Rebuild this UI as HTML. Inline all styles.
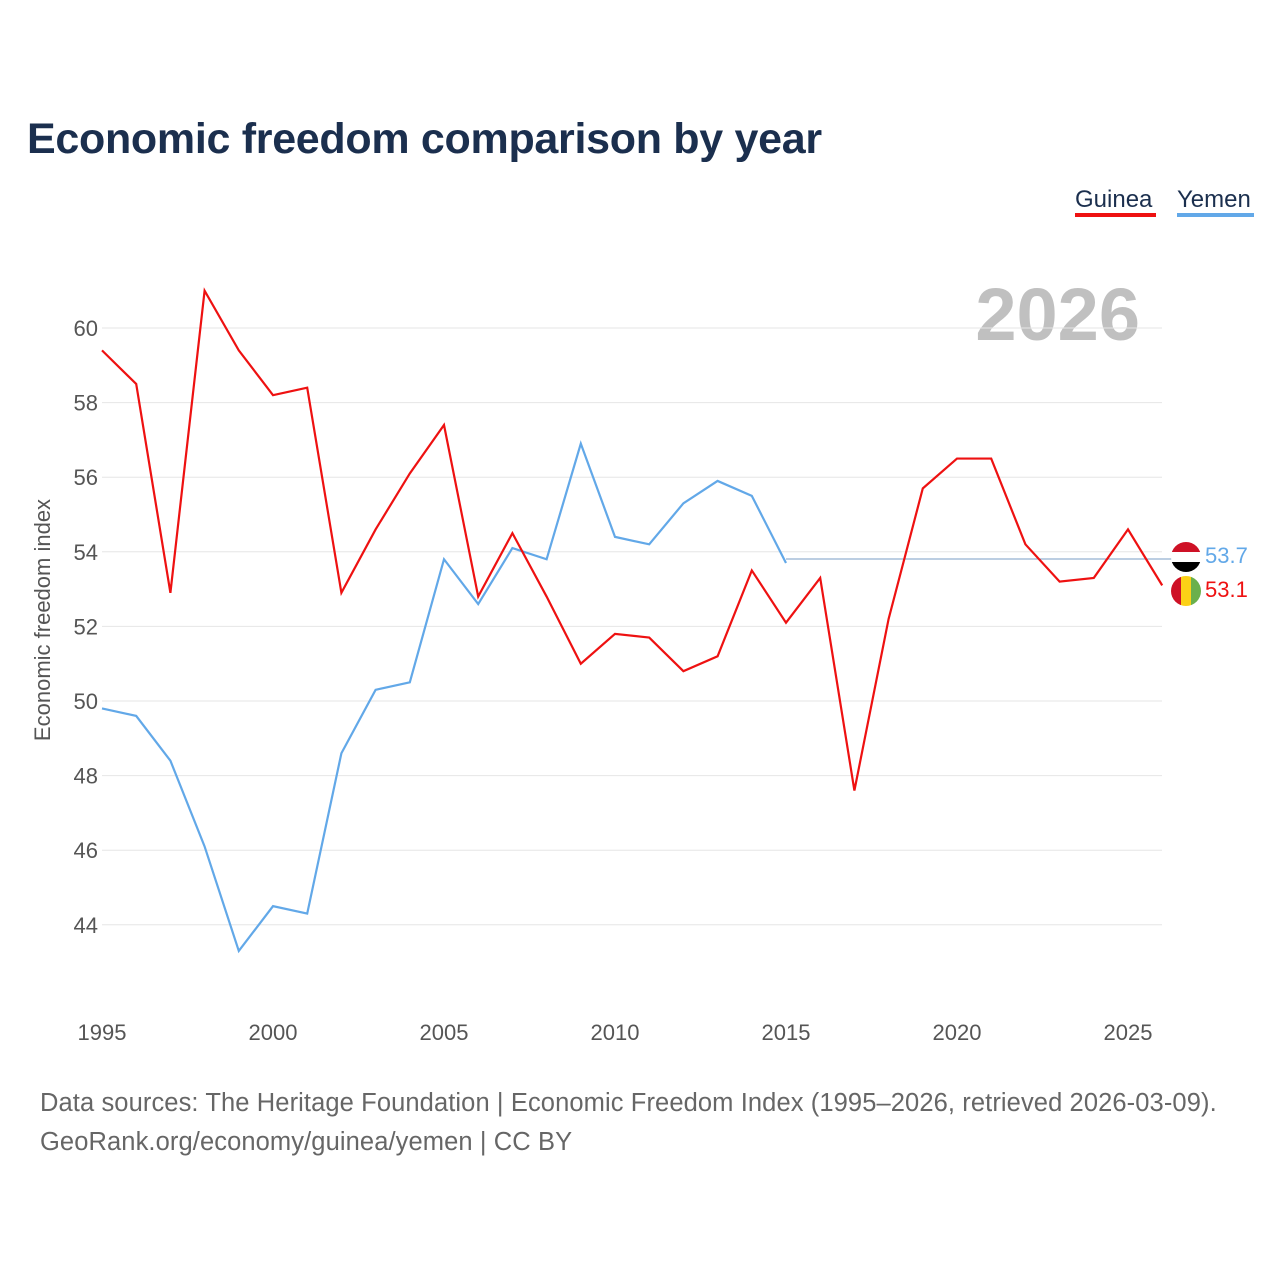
<!DOCTYPE html>
<html><head><meta charset="utf-8"><style>
body{margin:0;background:#fff;font-family:"Liberation Sans",sans-serif}
</style></head><body>
<svg id="c" width="1280" height="1280" xmlns="http://www.w3.org/2000/svg" style="font-family:'Liberation Sans',sans-serif">
<text x="27" y="153" font-size="43" font-weight="bold" fill="#1b2f4e" letter-spacing="-0.3">Economic freedom comparison by year</text>
<g><text x="1075" y="207" font-size="24" fill="#1b2f4e">Guinea</text><rect x="1075" y="213" width="81" height="4" fill="#ee1111"/></g>
<g><text x="1177" y="207" font-size="24" fill="#1b2f4e">Yemen</text><rect x="1177" y="213" width="77" height="4" fill="#62a8e8"/></g>
<text x="1140" y="340" font-size="74" font-weight="bold" fill="#c0c0c0" text-anchor="end">2026</text>
<text transform="translate(50,620) rotate(-90)" font-size="22" fill="#555" text-anchor="middle">Economic freedom index</text>
<g id="grid"></g><g id="xt"></g><g id="lines"></g>
<text x="40" y="1111" font-size="25.5" fill="#666" letter-spacing="0.1">Data sources: The Heritage Foundation | Economic Freedom Index (1995–2026, retrieved 2026-03-09).</text>
<text x="40" y="1150" font-size="25.5" fill="#666" letter-spacing="0.1">GeoRank.org/economy/guinea/yemen | CC BY</text>
</svg>
<script>
const years=[1995,1996,1997,1998,1999,2000,2001,2002,2003,2004,2005,2006,2007,2008,2009,2010,2011,2012,2013,2014,2015,2016,2017,2018,2019,2020,2021,2022,2023,2024,2025,2026];
const guinea=[59.4,58.5,52.9,61.0,59.4,58.2,58.4,52.9,54.6,56.1,57.4,52.8,54.5,52.8,51.0,51.8,51.7,50.8,51.2,53.5,52.1,53.3,47.6,52.2,55.7,56.5,56.5,54.2,53.2,53.3,54.6,53.1];
const yemen=[49.8,49.6,48.4,46.1,43.3,44.5,44.3,48.6,50.3,50.5,53.8,52.6,54.1,53.8,56.9,54.4,54.2,55.3,55.9,55.5,53.7];
const yTicks=[44,46,48,50,52,54,56,58,60];
const xTicks=[1995,2000,2005,2010,2015,2020,2025];
const NS="http://www.w3.org/2000/svg";
const X=y=>102+(y-1995)*34.2, Y=v=>328+(60-v)*37.3;
function mk(t,a,p){const e=document.createElementNS(NS,t);for(const k in a)e.setAttribute(k,a[k]);document.getElementById(p).appendChild(e);return e;}
yTicks.forEach(v=>{
 const l=mk('line',{x1:102,x2:1162,y1:Y(v),y2:Y(v),stroke:'#e6e6e6'},'grid');
 
 
 const t=mk('text',{x:98,y:Y(v)+8,'font-size':22,fill:'#555','text-anchor':'end'},'grid');t.textContent=v;
 
 
});
xTicks.forEach(v=>{
 const t=mk('text',{x:X(v),y:1040,'font-size':22,fill:'#555','text-anchor':'middle'},'xt');t.textContent=v;
 
 
});
function path(arr,col,name){
 const d=arr.map((v,i)=>(i?'L':'M')+X(years[i])+','+Y(v)).join('');
 const p=mk('path',{d:d,fill:'none',stroke:col,'stroke-width':2.2},'lines');
 
 
}
const yl=yemen[yemen.length-1];
const flat=mk('line',{x1:X(years[yemen.length-1]),x2:1185,y1:Y(yl)-4,y2:Y(yl)-4,stroke:'#7a9cc4','stroke-width':1},'lines');


path(yemen,'#62a8e8','yemen-line');
path(guinea,'#ee1111','guinea-line');
const gl=guinea[guinea.length-1];
const fy=mk('g',{},'lines');
fy.innerHTML='<clipPath id="cy"><circle cx="1186" cy="557" r="15"/></clipPath><g clip-path="url(#cy)"><rect x="1170" y="542" width="32" height="10" fill="#ce1126"/><rect x="1170" y="552" width="32" height="10" fill="#fff"/><rect x="1170" y="562" width="32" height="10" fill="#000"/></g>';
const fg=mk('g',{},'lines');
fg.innerHTML='<clipPath id="cg"><circle cx="1186" cy="591" r="15"/></clipPath><g clip-path="url(#cg)"><rect x="1171" y="576" width="10" height="30" fill="#ce1126"/><rect x="1181" y="576" width="10" height="30" fill="#fcd116"/><rect x="1191" y="576" width="10" height="30" fill="#6ab04c"/></g>';
const t1=mk('text',{x:1205,y:563,'font-size':22,fill:'#62a8e8'},'lines');t1.textContent=yl.toFixed(1);


const t2=mk('text',{x:1205,y:597,'font-size':22,fill:'#ee1111'},'lines');t2.textContent=gl.toFixed(1);


</script>
</body></html>
